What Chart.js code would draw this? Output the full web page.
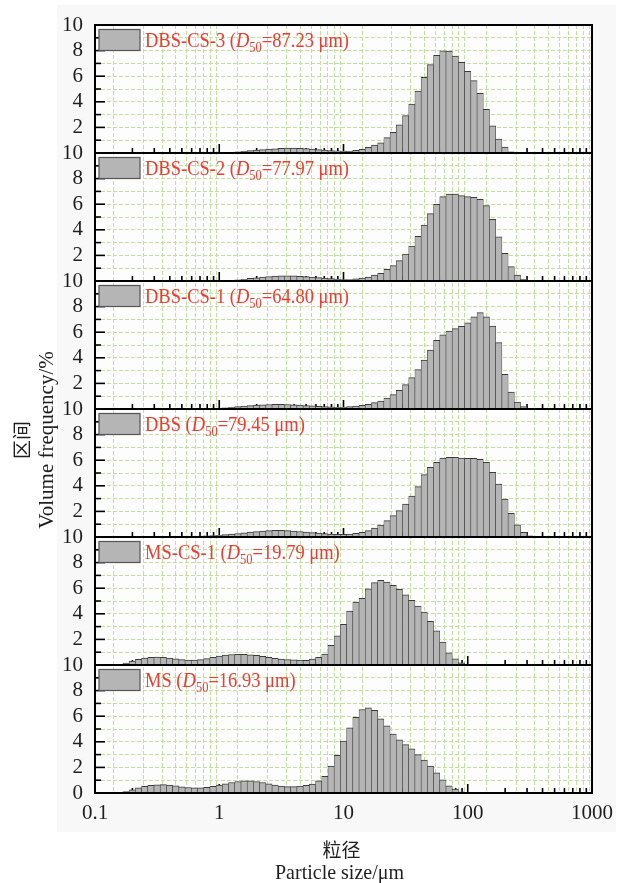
<!DOCTYPE html>
<html>
<head>
<meta charset="utf-8">
<script src="https://cdn.jsdelivr.net/npm/chart.js@4.4.1/dist/chart.umd.min.js"></script>
<style>
html,body{margin:0;padding:0;background:#ffffff;}
#wrap{position:relative;width:621px;height:883px;}
canvas{display:block;}
</style>
</head>
<body>
<div id="wrap"><canvas id="c" width="621" height="883"></canvas></div>
<script>
// ---- data ----
const sizes = [
  0.1122,0.1259,0.1413,0.1585,0.1778,0.1995,0.2239,0.2512,0.2818,0.3162,0.3548,0.3981,0.4467,0.5012,0.5623,0.6310,0.7079,0.7943,0.8913,1.000,
  1.122,1.259,1.413,1.585,1.778,1.995,2.239,2.512,2.818,3.162,3.548,3.981,4.467,5.012,5.623,6.310,7.079,7.943,8.913,10.00,
  11.22,12.59,14.13,15.85,17.78,19.95,22.39,25.12,28.18,31.62,35.48,39.81,44.67,50.12,56.23,63.10,70.79,79.43,89.13,100.0,
  112.2,125.9,141.3,158.5,177.8,199.5,223.9,251.2,281.8,316.2,354.8,398.1
];
const panelNames = ['DBS-CS-3','DBS-CS-2','DBS-CS-1','DBS','MS-CS-1','MS'];
const d50Values = [87.23, 77.97, 64.80, 79.45, 19.79, 16.93];

const dbsCs3 = [
  0,0,0,0,0,0,0,0,0,0,0,0,0,0,0,0,0,0,0,0,
  0.03,0.06,0.10,0.14,0.18,0.22,0.26,0.30,0.33,0.36,0.38,0.38,0.37,0.34,0.30,0.26,0.22,0.19,0.17,0.15,
  0.15,0.20,0.29,0.44,0.62,0.80,1.20,1.61,2.21,2.92,3.83,4.84,5.91,6.90,7.63,7.99,7.97,7.58,7.08,6.38,
  5.65,4.66,3.41,2.13,1.09,0.47,0.10,0.02,0,0,0,0
];
const dbsCs2 = [
  0,0,0,0,0,0,0,0,0,0,0,0,0,0,0,0,0,0,0,0,
  0.02,0.05,0.09,0.14,0.20,0.25,0.30,0.35,0.38,0.40,0.41,0.40,0.37,0.34,0.30,0.26,0.22,0.18,0.15,0.12,
  0.12,0.16,0.22,0.30,0.47,0.60,0.91,1.20,1.59,2.11,2.73,3.49,4.37,5.26,5.99,6.59,6.80,6.80,6.67,6.59,
  6.54,6.38,5.89,4.82,3.46,2.16,1.12,0.47,0.13,0.02,0,0
];
const dbsCs1 = [
  0,0,0,0,0,0,0,0,0,0,0,0,0,0,0,0,0,0.02,0.04,0.07,
  0.10,0.14,0.18,0.22,0.26,0.30,0.33,0.35,0.36,0.36,0.35,0.33,0.30,0.27,0.24,0.21,0.18,0.16,0.15,0.15,
  0.18,0.23,0.29,0.36,0.50,0.62,0.86,1.12,1.46,1.90,2.45,3.07,3.83,4.61,5.36,5.80,6.09,6.28,6.46,6.74,
  7.21,7.53,7.21,6.48,5.18,2.71,1.33,0.55,0.18,0.03,0,0
];
const dbs = [
  0,0,0,0,0,0,0,0,0,0,0,0,0,0.02,0.04,0.06,0.08,0.10,0.12,0.15,
  0.18,0.22,0.27,0.32,0.38,0.43,0.47,0.50,0.52,0.52,0.50,0.47,0.43,0.39,0.34,0.30,0.26,0.22,0.20,0.20,
  0.23,0.29,0.36,0.50,0.70,0.94,1.28,1.67,2.06,2.58,3.20,3.93,4.87,5.44,5.83,6.17,6.22,6.22,6.17,6.15,
  6.15,6.07,5.83,5.05,4.14,2.97,1.85,0.96,0.36,0.10,0,0
];
const msCs1 = [
  0,0,0,0.05,0.15,0.30,0.45,0.55,0.60,0.62,0.60,0.55,0.48,0.42,0.38,0.38,0.42,0.50,0.60,0.70,
  0.78,0.82,0.84,0.83,0.80,0.75,0.68,0.60,0.52,0.46,0.42,0.40,0.38,0.36,0.46,0.60,0.85,1.54,2.27,3.18,
  4.22,4.92,5.21,5.96,6.43,6.61,6.48,6.22,5.91,5.49,5.05,4.61,4.14,3.41,2.66,1.80,0.96,0.49,0.16,0.04,
  0,0,0,0,0,0,0,0,0,0,0,0
];
const ms = [
  0,0,0,0.03,0.12,0.25,0.40,0.52,0.60,0.64,0.65,0.62,0.56,0.49,0.43,0.40,0.40,0.44,0.52,0.62,
  0.72,0.82,0.90,0.95,0.95,0.90,0.82,0.72,0.62,0.54,0.50,0.50,0.54,0.60,0.70,0.95,1.30,2.10,2.95,4.05,
  5.10,5.91,6.52,6.65,6.45,5.80,5.25,4.60,4.15,3.78,3.45,3.00,2.58,2.10,1.57,1.02,0.56,0.30,0.10,0.02,
  0,0,0,0,0,0,0,0,0,0,0,0
];
const xTickLabels = ['0.1','1','10','100','1000'];
const yTickLabels = ['0','2','4','6','8','10'];

// ---- chart ----
const panelSeries = [dbsCs3, dbsCs2, dbsCs1, dbs, msCs1, ms];
const yIds = ['y0','y1','y2','y3','y4','y5'];
const SERIF = '"Liberation Serif", "Times New Roman", serif';
const gridColor = '#c3dfa0';
const textColor = '#1e1e1e';
const red = '#ee3b2f';

function isDecade(v){ const l = Math.log10(v); return Math.abs(l - Math.round(l)) < 1e-6; }

const datasets = panelSeries.map((vals, i) => ({
  label: panelNames[i],
  data: sizes.map((s, j) => ({x: s, y: vals[j]})),
  yAxisID: yIds[i],
  stack: 'all',
  backgroundColor: '#b5b5b5',
  borderColor: '#3a3a3a',
  borderWidth: {top: 1, left: 0.6, right: 0.6, bottom: 0},
  borderSkipped: false,
  barThickness: 'flex',
  barPercentage: 1,
  categoryPercentage: 1
}));

const scales = {
  x: {
    type: 'logarithmic', position: 'bottom', min: 0.1, max: 1000,
    afterBuildTicks(s){
      s.ticks = s.ticks.filter(t => {
        const m = t.value / Math.pow(10, Math.floor(Math.log10(t.value) + 1e-9));
        return Math.abs(m - Math.round(m)) < 1e-6;
      });
    },
    afterFit(s){ s.height = 40; },
    ticks: {
      autoSkip: false, maxRotation: 0, minRotation: 0, padding: 8, color: textColor,
      font: {family: SERIF, size: 21},
      callback(v){ const lbl = String(+Number(v).toPrecision(6)); return xTickLabels.includes(lbl) ? lbl : ''; }
    },
    grid: {color: gridColor, lineWidth: 1, drawTicks: false},
    border: {display: false, dash: [4, 2]}
  }
};
yIds.slice().reverse().forEach((id) => {
  const i = yIds.indexOf(id);
  scales[id] = {
    type: 'linear', position: 'left', stack: 'panels', stackWeight: 1, min: 0, max: 10,
    afterFit(s){ s.width = 50; },
    ticks: {
      stepSize: 1, autoSkip: false, padding: 12, color: textColor,
      font: {family: SERIF, size: 21},
      callback(v){
        const lbl = String(v);
        if (!yTickLabels.includes(lbl)) return '';
        if (v === 0 && i < yIds.length - 1) return '';
        return lbl;
      }
    },
    grid: {color: gridColor, lineWidth: 1, drawTicks: false},
    border: {display: false, dash: [4, 2]}
  };
});

function stretchText(ctx, text, x, y, sy){
  ctx.save();
  ctx.translate(x, y);
  ctx.scale(1, sy);
  ctx.fillText(text, 0, 0);
  ctx.restore();
}

const decor = {
  id: 'decor',
  beforeDraw(chart){
    const {ctx, chartArea: ca} = chart;
    ctx.save();
    ctx.fillStyle = '#f8f8f8';
    ctx.fillRect(ca.left - 38, ca.top - 20, ca.width + 62, ca.height + 59);
    ctx.fillStyle = '#fdfdfd';
    ctx.fillRect(ca.left, ca.top, ca.width, ca.height);
    ctx.restore();
  },
  beforeDatasetsDraw(chart){
    const {ctx, chartArea: ca} = chart;
    const xs = chart.scales.x;
    ctx.save();
    ctx.strokeStyle = '#000';
    ctx.lineWidth = 1.6;
    yIds.forEach(id => {
      const ys = chart.scales[id];
      const base = ys.getPixelForValue(0);
      xs.ticks.forEach(t => {
        const px = xs.getPixelForValue(t.value);
        const len = isDecade(t.value) ? 9 : 5;
        ctx.beginPath(); ctx.moveTo(px, base); ctx.lineTo(px, base - len); ctx.stroke();
      });
      ys.ticks.forEach(t => {
        const py = ys.getPixelForValue(t.value);
        const len = (Math.round(t.value) % 2 === 0) ? 10 : 6;
        ctx.beginPath(); ctx.moveTo(ca.left, py); ctx.lineTo(ca.left + len, py); ctx.stroke();
      });
    });
    ctx.restore();
  },
  afterDatasetsDraw(chart){
    const {ctx, chartArea: ca} = chart;
    ctx.save();
    ctx.strokeStyle = '#000';
    ctx.lineWidth = 2;
    yIds.forEach(id => {
      const ys = chart.scales[id];
      const top = ys.getPixelForValue(10), bot = ys.getPixelForValue(0);
      ctx.strokeRect(ca.left, top, ca.width, bot - top);
    });
    yIds.forEach((id, i) => {
      const ys = chart.scales[id];
      const top = ys.getPixelForValue(10);
      const bx = ca.left + 4, by = top + 4.5;
      ctx.fillStyle = '#b5b5b5';
      ctx.fillRect(bx, by, 41, 21);
      ctx.strokeStyle = '#555';
      ctx.lineWidth = 1.2;
      ctx.strokeRect(bx, by, 41, 21);
      let tx = ca.left + 50;
      const base = top + 21.5;
      ctx.fillStyle = red;
      ctx.textBaseline = 'alphabetic';
      ctx.textAlign = 'left';
      const parts = [
        {t: panelNames[i] + ' (', f: '18.5px ' + SERIF, dy: 0},
        {t: 'D', f: 'italic 18.5px ' + SERIF, dy: 0},
        {t: '50', f: '12.5px ' + SERIF, dy: 5},
        {t: '=' + d50Values[i].toFixed(2) + ' \u03bcm)', f: '18.5px ' + SERIF, dy: 0}
      ];
      parts.forEach(p => {
        ctx.font = p.f;
        stretchText(ctx, p.t, tx, base + p.dy, 1.18);
        tx += ctx.measureText(p.t).width;
      });
    });
    ctx.restore();
  },
  afterDraw(chart){
    const {ctx, chartArea: ca} = chart;
    ctx.save();
    ctx.fillStyle = textColor;
    ctx.textAlign = 'center';
    ctx.textBaseline = 'middle';
    const cx = (ca.left + ca.right) / 2;
    ctx.font = '19px "Noto Sans CJK SC", sans-serif';
    ctx.fillText('粒径', cx - 2, ca.bottom + 57);
    ctx.font = '20px ' + SERIF;
    stretchText(ctx, 'Particle size/\u03bcm', cx - 4, ca.bottom + 80, 1.1);
    const cy = ca.top + 415;
    ctx.translate(ca.left - 73, cy);
    ctx.rotate(-Math.PI / 2);
    ctx.font = '19px "Noto Sans CJK SC", sans-serif';
    ctx.fillText('区间', 0, 0);
    ctx.restore();
    ctx.save();
    ctx.fillStyle = textColor;
    ctx.textAlign = 'center';
    ctx.textBaseline = 'middle';
    ctx.translate(ca.left - 48, cy);
    ctx.rotate(-Math.PI / 2);
    ctx.font = '21px ' + SERIF;
    ctx.fillText('Volume frequency/%', 0, 0);
    ctx.restore();
  }
};

new Chart(document.getElementById('c'), {
  type: 'bar',
  data: {datasets},
  options: {
    responsive: false,
    devicePixelRatio: 1,
    animation: false,
    layout: {padding: {left: 45, right: 28, top: 25, bottom: 50}},
    plugins: {legend: {display: false}, tooltip: {enabled: false}},
    scales
  },
  plugins: [decor]
});
</script>
</body>
</html>
